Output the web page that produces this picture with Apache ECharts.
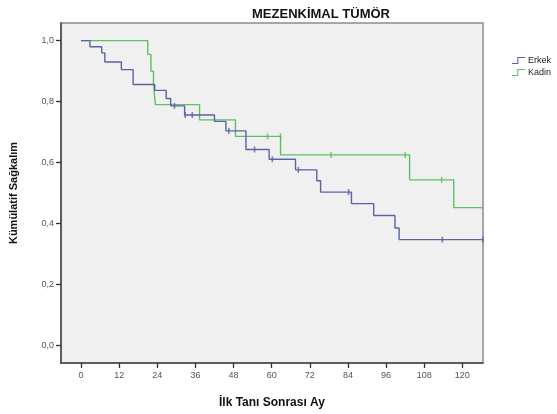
<!DOCTYPE html>
<html>
<head>
<meta charset="utf-8">
<script src="https://cdn.jsdelivr.net/npm/echarts@6/dist/echarts.min.js"></script>
<style>
html,body{margin:0;padding:0;background:#fff;}
#c{width:557px;height:414px;}
</style>
</head>
<body>
<div id="c"></div>
<script>
// ---- data ----
var titleText = 'MEZENKİMAL TÜMÖR';
var xName = 'İlk Tanı Sonrası Ay';
var yName = 'Kümülatif Sağkalım';
var seriesNames = ['Erkek', 'Kadin'];
var xTicks = [0, 12, 24, 36, 48, 60, 72, 84, 96, 108, 120];
var yTicks = [0, 0.2, 0.4, 0.6, 0.8, 1.0];

// Erkek (male) Kaplan-Meier steps
var erkekTime = [0, 2.8, 6.5, 7.5, 12.7, 16.4, 23.2, 26.8, 28.2, 32.6, 42.0, 45.6, 51.9, 59.2, 67.5, 74.2, 75.4, 85.1, 92.1, 98.8, 100.1, 126.5];
var erkekSurv = [1.0, 0.98, 0.96, 0.93, 0.905, 0.856, 0.837, 0.81, 0.786, 0.756, 0.735, 0.704, 0.643, 0.611, 0.576, 0.54, 0.503, 0.465, 0.426, 0.385, 0.347, 0.347];
var erkekCensTime = [29.4, 32.8, 35.0, 46.5, 54.6, 60.2, 68.4, 84.2, 113.7, 126.5];
var erkekCensSurv = [0.786, 0.756, 0.756, 0.704, 0.643, 0.611, 0.576, 0.503, 0.347, 0.347];

// Kadin (female) Kaplan-Meier steps
var kadinTime = [0, 21.0, 22.0, 22.8, 23.4, 37.3, 48.6, 62.8, 103.4, 117.3, 126.5];
var kadinSurv = [1.0, 0.955, 0.90, 0.86, 0.79, 0.74, 0.686, 0.625, 0.543, 0.452, 0.452];
var kadinCensTime = [58.7, 62.8, 78.7, 102.0, 113.5];
var kadinCensSurv = [0.686, 0.686, 0.625, 0.625, 0.543];

// ---- build ----
function pairs(a, b) { return a.map(function (v, i) { return [v, b[i]]; }); }
var blue = '#5b62a6';
var green = '#5fbf63';
var stepIcon = 'path://M0,9 L8,9 L8,0 L20,0 L20,1.6 L9.6,1.6 L9.6,10.6 L0,10.6 Z';

var chart = echarts.init(document.getElementById('c'), null, {renderer: 'canvas'});
chart.setOption({
  animation: false,
  backgroundColor: '#ffffff',
  title: {
    text: titleText,
    left: 316, top: 3, textAlign: 'center',
    textStyle: {fontFamily: 'Liberation Sans, Arial', fontWeight: 'bold', fontSize: 13, color: '#111'}
  },
  legend: {
    orient: 'vertical',
    left: 507, top: 51,
    itemWidth: 19, itemHeight: 7, itemGap: 3,
    textStyle: {fontFamily: 'Liberation Sans, Arial', fontSize: 9, color: '#222', padding: [0, 0, 0, -5]},
    data: [
      {name: seriesNames[0], icon: stepIcon, itemStyle: {color: blue}},
      {name: seriesNames[1], icon: stepIcon, itemStyle: {color: green}}
    ]
  },
  grid: {
    left: 58, top: 23, right: 74, bottom: 45,
    show: true, backgroundColor: '#f0f0f0', borderColor: '#8c8c8c', borderWidth: 1.5
  },
  xAxis: {
    type: 'value', min: -6.3, max: 126.5,
    name: xName, nameLocation: 'middle', nameGap: 34,
    nameTextStyle: {fontFamily: 'Liberation Sans, Arial', fontWeight: 'bold', fontSize: 12, color: '#111'},
    axisLine: {show: true, onZero: false, lineStyle: {color: '#444', width: 1.5}},
    axisTick: {show: true, length: 5, customValues: xTicks, lineStyle: {color: '#333', width: 1.3}},
    axisLabel: {customValues: xTicks, fontFamily: 'Liberation Sans, Arial', fontSize: 9, color: '#555', margin: 8},
    splitLine: {show: false}
  },
  yAxis: {
    type: 'value', min: -0.058, max: 1.058,
    name: yName, nameLocation: 'middle', nameGap: 42, nameRotate: 90,
    nameTextStyle: {fontFamily: 'Liberation Sans, Arial', fontWeight: 'bold', fontSize: 11, color: '#111'},
    axisLine: {show: true, onZero: false, lineStyle: {color: '#444', width: 1.5}},
    axisTick: {show: true, length: 5, customValues: yTicks, lineStyle: {color: '#333', width: 1.3}},
    axisLabel: {customValues: yTicks, fontFamily: 'Liberation Sans, Arial', fontSize: 9, color: '#555', margin: 7,
      formatter: function (v) { return v.toFixed(1).replace('.', ','); }},
    splitLine: {show: false}
  },
  series: [
    {name: seriesNames[0], type: 'line', step: 'end', data: pairs(erkekTime, erkekSurv),
      showSymbol: false, lineStyle: {color: blue, width: 1.4}, itemStyle: {color: blue}, z: 3},
    {name: seriesNames[1], type: 'line', step: 'end', data: pairs(kadinTime, kadinSurv),
      showSymbol: false, lineStyle: {color: green, width: 1.4}, itemStyle: {color: green}, z: 2},
    {name: seriesNames[0] + ' cens', type: 'scatter', data: pairs(erkekCensTime, erkekCensSurv),
      symbol: 'rect', symbolSize: [1.6, 6], itemStyle: {color: blue}, z: 4},
    {name: seriesNames[1] + ' cens', type: 'scatter', data: pairs(kadinCensTime, kadinCensSurv),
      symbol: 'rect', symbolSize: [1.6, 6], itemStyle: {color: green}, z: 4}
  ]
});
</script>
</body>
</html>
